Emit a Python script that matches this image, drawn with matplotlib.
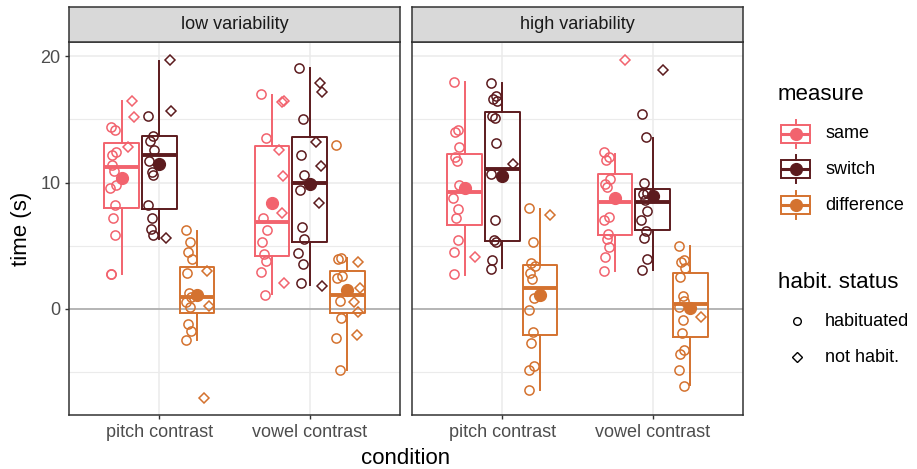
import matplotlib
matplotlib.use('Agg')
import matplotlib.pyplot as plt
from matplotlib.patches import Rectangle
from matplotlib.lines import Line2D
from matplotlib.ticker import MultipleLocator

plt.rcParams['font.family'] = ['Liberation Sans', 'DejaVu Sans']

# ---------------- data ----------------
panels = ['low variability', 'high variability']
conditions = ['pitch contrast', 'vowel contrast']
measures = ['same', 'switch', 'difference']
measure_colors = ['#F2636E', '#5C1B1E', '#D4722F']
habit_labels = ['habituated', 'not habit.']
y_ticks = [0, 10, 20]

# individual points (habituated = circles, not habituated = diamonds)
low_pitch_same_hab = [14.4, 14.2, 12.2, 12.4, 11.4, 10.9, 9.8, 9.6, 8.2, 7.2, 5.8, 2.7, 2.7]
low_pitch_same_not = [16.5, 15.2, 12.8]
low_pitch_switch_hab = [15.3, 13.7, 13.3, 12.6, 11.7, 10.8, 10.6, 8.2, 7.2, 6.3, 5.8]
low_pitch_switch_not = [19.7, 15.7, 5.6]
low_pitch_diff_hab = [6.2, 5.3, 4.5, 3.9, 2.8, 1.2, 0.9, 0.5, 0.13, -1.2, -1.8, -2.5]
low_pitch_diff_not = [3.0, 0.2, -7.1]

low_vowel_same_hab = [17.0, 13.55, 7.2, 6.2, 5.3, 4.3, 3.8, 2.9, 1.05]
low_vowel_same_not = [16.4, 16.5, 12.6, 10.5, 7.6, 2.0]
low_vowel_switch_hab = [19.1, 15.0, 12.2, 10.6, 9.4, 6.5, 5.5, 4.4, 3.5, 2.0]
low_vowel_switch_not = [17.9, 17.2, 13.2, 11.3, 8.4, 1.8]
low_vowel_diff_hab = [12.97, 4.03, 3.95, 2.6, 2.4, 0.58, -0.79, -2.37, -4.87]
low_vowel_diff_not = [3.7, 1.6, 0.5, -0.26, -2.1]

high_pitch_same_hab = [18.0, 14.16, 14.0, 12.84, 12.0, 11.7, 9.8, 8.8, 7.9, 7.2, 5.4, 4.5, 2.7]
high_pitch_same_not = [4.1]
high_pitch_switch_hab = [17.9, 16.9, 16.66, 16.5, 15.3, 15.1, 13.1, 10.66, 7.05, 5.45, 5.26, 3.87, 3.16]
high_pitch_switch_not = [11.5]
high_pitch_diff_hab = [8.0, 5.26, 3.6, 3.34, 2.8, 2.37, 0.87, -0.08, -1.84, -2.76, -4.55, -4.9, -6.45]
high_pitch_diff_not = [7.4]

high_vowel_same_hab = [12.4, 12.0, 11.8, 10.3, 9.9, 9.66, 7.24, 7.0, 5.9, 5.5, 4.9, 4.1, 2.95]
high_vowel_same_not = [19.7]
high_vowel_switch_hab = [15.45, 13.6, 10.0, 9.2, 9.1, 8.6, 7.76, 7.05, 6.13, 5.6, 3.9, 3.03]
high_vowel_switch_not = [18.9]
high_vowel_diff_hab = [5.0, 3.87, 3.68, 3.2, 2.5, 0.97, 0.6, 0.13, -0.92, -1.92, -3.3, -3.6, -4.87, -6.18]
high_vowel_diff_not = [-0.71]

# box statistics: [lower whisker, q1, median, q3, upper whisker]
low_pitch_same_box = [2.76, 7.95, 11.24, 13.16, 16.45]
low_pitch_switch_box = [5.53, 7.89, 12.16, 13.68, 19.66]
low_pitch_diff_box = [-2.5, -0.32, 0.92, 3.29, 6.13]
low_vowel_same_box = [1.13, 4.2, 6.84, 12.9, 16.97]
low_vowel_switch_box = [1.84, 5.24, 10.0, 13.6, 19.1]
low_vowel_diff_box = [-4.87, -0.34, 1.05, 2.95, 4.03]
high_pitch_same_box = [2.68, 6.66, 9.26, 12.24, 17.97]
high_pitch_switch_box = [3.2, 5.34, 11.1, 15.6, 17.9]
high_pitch_diff_box = [-6.45, -2.1, 1.63, 3.47, 7.9]
high_vowel_same_box = [2.95, 5.8, 8.47, 10.7, 12.3]
high_vowel_switch_box = [3.03, 6.24, 8.42, 9.47, 13.55]
high_vowel_diff_box = [-6.1, -2.24, 0.39, 2.84, 4.95]

# means (same, switch, difference)
low_pitch_means = [10.39, 11.45, 1.05]
low_vowel_means = [8.37, 9.87, 1.5]
high_pitch_means = [9.53, 10.5, 1.05]
high_vowel_means = [8.8, 8.95, 0.05]

data = {
    ('low variability', 'pitch contrast'): dict(
        hab=[low_pitch_same_hab, low_pitch_switch_hab, low_pitch_diff_hab],
        nothab=[low_pitch_same_not, low_pitch_switch_not, low_pitch_diff_not],
        box=[low_pitch_same_box, low_pitch_switch_box, low_pitch_diff_box],
        mean=low_pitch_means),
    ('low variability', 'vowel contrast'): dict(
        hab=[low_vowel_same_hab, low_vowel_switch_hab, low_vowel_diff_hab],
        nothab=[low_vowel_same_not, low_vowel_switch_not, low_vowel_diff_not],
        box=[low_vowel_same_box, low_vowel_switch_box, low_vowel_diff_box],
        mean=low_vowel_means),
    ('high variability', 'pitch contrast'): dict(
        hab=[high_pitch_same_hab, high_pitch_switch_hab, high_pitch_diff_hab],
        nothab=[high_pitch_same_not, high_pitch_switch_not, high_pitch_diff_not],
        box=[high_pitch_same_box, high_pitch_switch_box, high_pitch_diff_box],
        mean=high_pitch_means),
    ('high variability', 'vowel contrast'): dict(
        hab=[high_vowel_same_hab, high_vowel_switch_hab, high_vowel_diff_hab],
        nothab=[high_vowel_same_not, high_vowel_switch_not, high_vowel_diff_not],
        box=[high_vowel_same_box, high_vowel_switch_box, high_vowel_diff_box],
        mean=high_vowel_means),
}

# ---------------- layout ----------------
W, H = 917, 469
fig = plt.figure(figsize=(W / 100, H / 100), dpi=100)
fig.patch.set_facecolor('white')

def fx(px):
    return px / W

def fy(py):
    return 1 - py / H

panel_px = [(69, 400), (412, 743)]
top_px, bot_px, strip_top_px = 42, 415, 7

jit = [-0.018, 0.012, -0.006, 0.02, -0.012, 0.004, 0.016, -0.02, 0.008, -0.002, 0.014, -0.015]
dodge = 0.25
box_w = 0.23
grey_txt = '#4D4D4D'
border = '#333333'

for pi, pname in enumerate(panels):
    x0, x1 = panel_px[pi]
    ax = fig.add_axes([fx(x0), fy(bot_px), fx(x1) - fx(x0), fy(top_px) - fy(bot_px)])
    ax.set_xlim(-0.6, 1.6)
    ax.set_ylim(-8.45, 21.15)
    ax.set_facecolor('white')
    ax.yaxis.set_major_locator(MultipleLocator(10))
    ax.yaxis.set_minor_locator(MultipleLocator(5))
    ax.set_xticks(range(len(conditions)))
    ax.set_xticklabels(conditions)
    ax.grid(True, which='major', color='#EBEBEB', lw=1.1, zorder=0)
    ax.grid(True, which='minor', axis='y', color='#EBEBEB', lw=0.8, zorder=0)
    ax.set_axisbelow(True)
    ax.tick_params(which='minor', length=0)
    ax.tick_params(which='major', length=3.2, width=1.0, color=border,
                   labelsize=13, labelcolor=grey_txt, pad=3)
    if pi == 0:
        ax.set_yticks(y_ticks)
    else:
        ax.tick_params(axis='y', labelleft=False, left=False)
    for s in ax.spines.values():
        s.set_color(border)
        s.set_linewidth(1.1)
    ax.axhline(0, color='#B0B0B0', lw=1.3, zorder=1)

    for ci, cname in enumerate(conditions):
        d = data[(pname, cname)]
        for mi in range(len(measures)):
            col = measure_colors[mi]
            xc = ci + (mi - 1) * dodge
            wl, q1, med, q3, wh = d['box'][mi]
            stats = [dict(whislo=wl, q1=q1, med=med, q3=q3, whishi=wh, fliers=[])]
            ax.bxp(stats, positions=[xc], widths=box_w, showcaps=False,
                   showfliers=False, patch_artist=False, manage_ticks=False,
                   boxprops=dict(color=col, lw=1.4),
                   whiskerprops=dict(color=col, lw=1.4),
                   medianprops=dict(color=col, lw=2.8, solid_capstyle='butt'),
                   zorder=3)
            hv = d['hab'][mi]
            xs = [xc - 0.055 + jit[i % len(jit)] for i in range(len(hv))]
            ax.plot(xs, hv, ls='none', marker='o', ms=6.6, mfc='none',
                    mec=col, mew=1.1, zorder=4)
            nv = d['nothab'][mi]
            xs = [xc + 0.065 + jit[(i + 5) % len(jit)] for i in range(len(nv))]
            ax.plot(xs, nv, ls='none', marker='D', ms=5.6, mfc='none',
                    mec=col, mew=1.1, zorder=4)
            ax.plot([xc], [d['mean'][mi]], ls='none', marker='o', ms=8.5,
                    mfc=col, mec=col, zorder=5)

    # strip
    sax = fig.add_axes([fx(x0), fy(top_px), fx(x1) - fx(x0), fy(strip_top_px) - fy(top_px)])
    sax.set_facecolor('#D9D9D9')
    sax.set_xticks([]); sax.set_yticks([])
    for s in sax.spines.values():
        s.set_color(border)
        s.set_linewidth(1.1)
    sax.text(0.5, 0.5, pname, ha='center', va='center', fontsize=13, color='#1A1A1A',
             transform=sax.transAxes)

# axis titles
fig.text(fx(22), fy((top_px + bot_px) / 2), 'time (s)', rotation=90, ha='center',
         va='center', fontsize=16, color='black')
fig.text(fx((69 + 743) / 2), fy(458), 'condition', ha='center', va='center',
         fontsize=16, color='black')

# ---------------- legend ----------------
lax = fig.add_axes([0, 0, 1, 1], facecolor='none')
lax.set_xlim(0, W)
lax.set_ylim(H, 0)
lax.axis('off')
lax.text(778, 95, 'measure', ha='left', va='center', fontsize=16, color='black')
key_y = [134, 169, 205]
for mi, m in enumerate(measures):
    col = measure_colors[mi]
    y = key_y[mi]
    lax.add_patch(Rectangle((781, y - 9), 29, 18, fill=False, ec=col, lw=1.4))
    lax.plot([795.5, 795.5], [y - 14, y - 9], color=col, lw=1.4)
    lax.plot([795.5, 795.5], [y + 9, y + 14], color=col, lw=1.4)
    lax.plot([781, 810], [y, y], color=col, lw=2.2, solid_capstyle='butt')
    lax.plot([795.5], [y], marker='o', ms=8.5, color=col)
    lax.text(825, y, m, ha='left', va='center', fontsize=13, color='black')

lax.text(778, 282, 'habit. status', ha='left', va='center', fontsize=16, color='black')
hab_y = [321, 357]
lax.plot([797], [hab_y[0]], marker='o', ms=5.5, mfc='none', mec='black', mew=1.0)
lax.plot([797], [hab_y[1]], marker='D', ms=5.0, mfc='none', mec='black', mew=1.0)
for hi, hl in enumerate(habit_labels):
    lax.text(825, hab_y[hi], hl, ha='left', va='center', fontsize=13, color='black')

fig.savefig('out.png', dpi=100, facecolor='white')
